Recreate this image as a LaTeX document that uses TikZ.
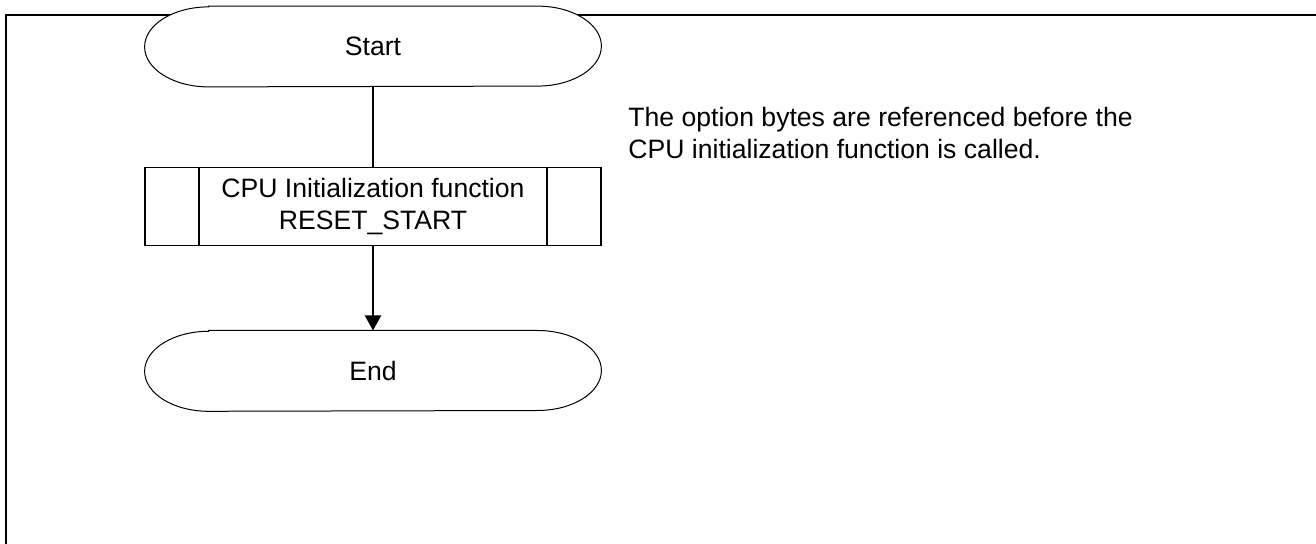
\documentclass[tikz,border=0pt]{standalone}
\usepackage{fontspec}
\setmainfont{Liberation Sans}
\usepackage{tikz}
\usetikzlibrary{arrows.meta, positioning, backgrounds}

% terminal outline with elliptic ends, drawn round a named node
\newcommand{\termshape}[1]{%
    \draw[fill=white, line width=0.5pt]
        ([xshift=32pt]#1.north west) -- ([xshift=-32pt]#1.north east)
        arc[start angle=90, end angle=-90, x radius=32pt, y radius=20pt]
        -- ([xshift=32pt]#1.south west)
        arc[start angle=270, end angle=90, x radius=32pt, y radius=20pt]
        -- cycle;}

\begin{document}
\begin{tikzpicture} [
    font = \fontsize{13.3}{16}\selectfont,
    term/.style = {minimum width=228pt, minimum height=40pt, inner sep=0pt, text centered},
    subproc/.style = {rectangle, draw, line width=0.8pt, minimum width=228pt,
    minimum height=39pt, inner sep=0pt, align=center},
    divider/.style = {draw, line width=0.8pt},
    line/.style = {draw, line width=1pt},
    arrow/.style = {draw, line width=1pt, -{Triangle[length=7.5pt, width=8pt]}},
    node distance = 40pt
    ]
    \useasboundingbox (0,0) rectangle (658pt,-272pt);

    \node[term](start) at (186.5pt,-23.25pt) {Start};
    \node[subproc, below=of start](init) {CPU Initialization function\\RESET\_START};
    \node[term, below=42pt of init](finish) {End};
    \node[anchor=north west, inner sep=0pt, align=left](note) at (314pt,-53.5pt)
        {The option bytes are referenced before the\\CPU initialization function is called.};

    \draw[divider] ([xshift=27.5pt]init.north west) -- ([xshift=27.5pt]init.south west);
    \draw[divider] ([xshift=-27.5pt]init.north east) -- ([xshift=-27.5pt]init.south east);

    \draw[line] (start) -- (init);
    \draw[arrow] (init) -- (finish);

    \begin{scope}[on background layer]
        \draw[line width=1pt] (3pt,-272pt) -- (3pt,-7.5pt) -- (658pt,-7.5pt);
        \termshape{start}
        \termshape{finish}
    \end{scope}
\end{tikzpicture}
\end{document}
